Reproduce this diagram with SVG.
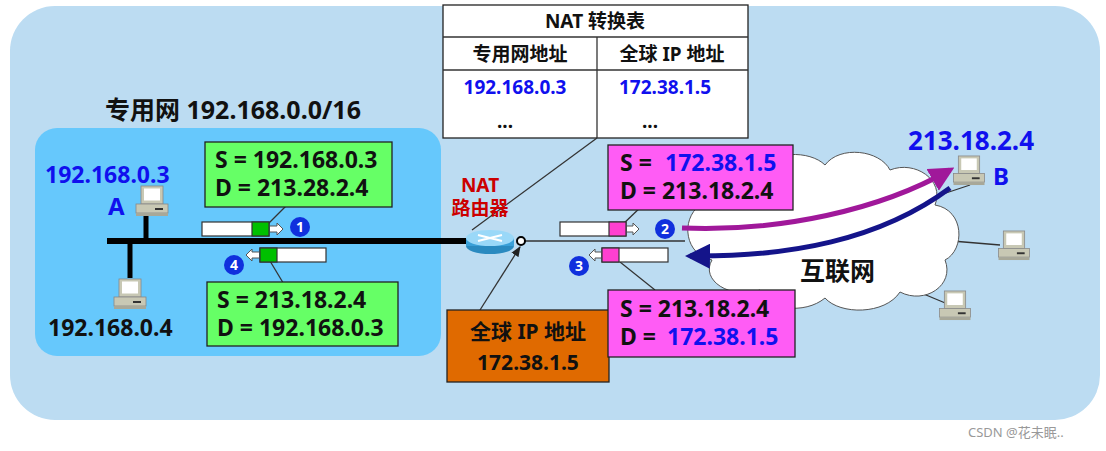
<svg xmlns="http://www.w3.org/2000/svg" width="1106" height="451" viewBox="0 0 1106 451">
<defs>
<style>
text{font-family:"Noto Sans","Noto Sans CJK SC",sans-serif;font-weight:bold}
.t{font-size:23px;fill:#111}
.b{fill:#1010ee}
.ln{stroke:#333;stroke-width:1.3;fill:none}
.num{fill:#1030dd}
.nt{fill:#fff;font-size:14px;text-anchor:middle}
.tb{font-size:19px}
</style>
<symbol id="pc" viewBox="0 0 34 32">
<rect x="6" y="1" width="22" height="18" fill="#c8c8b4" stroke="#888" stroke-width="0.8"/>
<rect x="9" y="3.5" width="16" height="12" fill="#fff"/>
<rect x="1" y="19" width="32" height="9" fill="#c8c8b4" stroke="#888" stroke-width="0.8"/>
<rect x="20" y="23" width="8" height="2" fill="#333"/>
<rect x="1" y="28" width="32" height="3" fill="#a8a898"/>
</symbol>
<marker id="ah" viewBox="0 0 10 10" refX="9" refY="5" markerWidth="8" markerHeight="8" orient="auto"><path d="M0,1 L10,5 L0,9 Z" fill="#222"/></marker>
<marker id="ap" viewBox="0 0 10 10" refX="8" refY="5" markerWidth="5" markerHeight="5" orient="auto"><path d="M0,0 L10,5 L0,10 Z" fill="#a0189a"/></marker>
<marker id="ab" viewBox="0 0 10 10" refX="8" refY="5" markerWidth="5" markerHeight="5" orient="auto"><path d="M0,0 L10,5 L0,10 Z" fill="#14148a"/></marker>
</defs>
<rect x="10" y="6" width="1090" height="414" rx="45" fill="#bcdcf2"/>
<g id="private-net">
<rect x="35" y="128" width="406" height="228" rx="22" fill="#66c8fc"/>
<text x="105" y="119" style="font-size:25px" fill="#111">专用网 192.168.0.0/16</text>
</g>
<g id="table">
<rect x="443" y="5" width="305" height="133" fill="#fff" stroke="#222" stroke-width="1.3"/>
<line x1="443" y1="37" x2="748" y2="37" class="ln"/>
<line x1="443" y1="70" x2="748" y2="70" class="ln"/>
<line x1="597" y1="37" x2="597" y2="138" class="ln"/>
<text x="595" y="28" text-anchor="middle" class="tb" fill="#111">NAT 转换表</text>
<text x="520" y="61" text-anchor="middle" class="tb" fill="#111">专用网地址</text>
<text x="672" y="61" text-anchor="middle" class="tb" fill="#111">全球 IP 地址</text>
<text x="515" y="94" text-anchor="middle" class="tb b">192.168.0.3</text>
<text x="665" y="94" text-anchor="middle" class="tb b">172.38.1.5</text>
<text x="505" y="128" text-anchor="middle" class="tb" fill="#111">...</text>
<text x="650" y="128" text-anchor="middle" class="tb" fill="#111">...</text>
</g>
<g id="connectors">
<line x1="107" y1="241" x2="470" y2="241" stroke="#000" stroke-width="6"/>
<line x1="146" y1="212" x2="146" y2="241" stroke="#000" stroke-width="5"/>
<line x1="130" y1="241" x2="130" y2="278" stroke="#000" stroke-width="5"/>
<line x1="520" y1="241" x2="685" y2="241" class="ln"/>
<line x1="472" y1="230" x2="597" y2="138" class="ln"/>
<line x1="480" y1="310" x2="520" y2="247" class="ln" marker-end="url(#ah)"/>
<line x1="293" y1="199" x2="263" y2="229" class="ln"/>
<line x1="285" y1="286" x2="270" y2="261" class="ln"/>
<line x1="645" y1="203" x2="620" y2="227" class="ln"/>
<line x1="655" y1="290" x2="620" y2="262" class="ln"/>
<line x1="940" y1="195" x2="970" y2="185" class="ln"/>
<line x1="940" y1="240" x2="1000" y2="245" class="ln"/>
<line x1="890" y1="280" x2="950" y2="305" class="ln"/>
</g>
<g id="cloud">
<path d="M700,205 C690,180 730,160 760,172 C770,150 810,150 825,165 C840,145 880,150 890,170 C915,160 945,180 935,205 C965,210 965,250 945,260 C955,285 925,305 900,292 C885,315 840,315 825,298 C805,315 765,310 760,290 C730,300 700,280 712,260 C685,255 680,220 700,205 Z" fill="#fff" stroke="#555" stroke-width="1"/>
<text x="800" y="280" style="font-size:25px" fill="#111">互联网</text>
</g>
<g id="arrows">
<path d="M682,228 C780,232 880,210 950,170" fill="none" stroke="#a0189a" stroke-width="5" marker-end="url(#ap)"/>
<path d="M950,188 C880,240 790,257 690,256" fill="none" stroke="#14148a" stroke-width="5" marker-end="url(#ab)"/>
</g>
<g id="hostA">
<use href="#pc" x="134" y="185" width="36" height="32"/>
<text x="45" y="183" style="font-size:23px" class="b">192.168.0.3</text>
<text x="108" y="215" style="font-size:24px" class="b">A</text>
</g>
<g id="host2">
<use href="#pc" x="112" y="278" width="36" height="32"/>
<text x="48" y="336" style="font-size:23px" fill="#111">192.168.0.4</text>
</g>
<g id="green1">
<rect x="205" y="142" width="187" height="65" fill="#66ff66" stroke="#222" stroke-width="1.3"/>
<text x="215" y="168" class="t">S = 192.168.0.3</text>
<text x="215" y="196" class="t">D = 213.28.2.4</text>
</g>
<g id="green2">
<rect x="207" y="282" width="191" height="64" fill="#66ff66" stroke="#222" stroke-width="1.3"/>
<text x="217" y="308" class="t">S = 213.18.2.4</text>
<text x="217" y="336" class="t">D = 192.168.0.3</text>
</g>
<g id="pkt1">
<rect x="202" y="222" width="67" height="14" fill="#fff" stroke="#333" stroke-width="1.2"/>
<rect x="252" y="222" width="17" height="14" fill="#00c000" stroke="#333" stroke-width="1.2"/>
<path d="M270,226 H277 V223 L283,229 L277,235 V232 H270" fill="#fff" stroke="#555"/>
<circle cx="300" cy="227" r="10" class="num"/><text x="300" y="232" class="nt">1</text>
</g>
<g id="pkt4">
<rect x="260" y="248" width="66" height="14" fill="#fff" stroke="#333" stroke-width="1.2"/>
<rect x="260" y="248" width="17" height="14" fill="#00c000" stroke="#333" stroke-width="1.2"/>
<path d="M259,252 H252 V249 L246,255 L252,261 V258 H259" fill="#fff" stroke="#555"/>
<circle cx="234" cy="265" r="10" class="num"/><text x="234" y="270" class="nt">4</text>
</g>
<g id="router">
<ellipse cx="490" cy="246" rx="24" ry="8" fill="#2a8ac0"/>
<rect x="466" y="238" width="48" height="8" fill="#3aa0d8"/>
<ellipse cx="490" cy="238" rx="24" ry="8" fill="#9ad8f8"/>
<path d="M478,235 L502,241 M478,241 L502,235" stroke="#fff" stroke-width="2"/>
<circle cx="521" cy="241" r="4" fill="#fff" stroke="#000" stroke-width="2"/>
<text x="480" y="192" text-anchor="middle" style="font-size:19px" fill="#cc0000">NAT</text>
<text x="480" y="215" text-anchor="middle" style="font-size:19px" fill="#cc0000">路由器</text>
</g>
<g id="global-ip">
<rect x="447" y="310" width="162" height="72" fill="#e06a00" stroke="#222" stroke-width="1.3"/>
<text x="528" y="339" text-anchor="middle" style="font-size:21px" fill="#111">全球 IP 地址</text>
<text x="528" y="370" text-anchor="middle" style="font-size:21px" fill="#111">172.38.1.5</text>
</g>
<g id="pink1">
<rect x="608" y="145" width="185" height="65" fill="#ff5cf5" stroke="#222" stroke-width="1.3"/>
<text x="620" y="171" class="t">S =</text>
<text x="665" y="171" class="t b">172.38.1.5</text>
<text x="620" y="199" class="t">D = 213.18.2.4</text>
</g>
<g id="pink2">
<rect x="608" y="290" width="187" height="67" fill="#ff5cf5" stroke="#222" stroke-width="1.3"/>
<text x="620" y="317" class="t">S = 213.18.2.4</text>
<text x="620" y="345" class="t">D =</text>
<text x="667" y="345" class="t b">172.38.1.5</text>
</g>
<g id="pkt2">
<rect x="560" y="222" width="66" height="14" fill="#fff" stroke="#333" stroke-width="1.2"/>
<rect x="609" y="222" width="17" height="14" fill="#ff40d0" stroke="#333" stroke-width="1.2"/>
<path d="M627,226 H633 V223 L639,229 L633,235 V232 H627" fill="#fff" stroke="#555"/>
<circle cx="665" cy="229" r="10" class="num"/><text x="665" y="234" class="nt">2</text>
</g>
<g id="pkt3">
<rect x="602" y="248" width="66" height="14" fill="#fff" stroke="#333" stroke-width="1.2"/>
<rect x="602" y="248" width="17" height="14" fill="#ff40d0" stroke="#333" stroke-width="1.2"/>
<path d="M601,252 H595 V249 L589,255 L595,261 V258 H601" fill="#fff" stroke="#555"/>
<circle cx="579" cy="266" r="10" class="num"/><text x="579" y="271" class="nt">3</text>
</g>
<g id="hostB">
<use href="#pc" x="952" y="155" width="34" height="31"/>
<text x="993" y="185" style="font-size:24px" class="b">B</text>
<text x="908" y="150" style="font-size:26px" class="b">213.18.2.4</text>
</g>
<g id="host3"><use href="#pc" x="997" y="230" width="34" height="31"/></g>
<g id="host4"><use href="#pc" x="938" y="290" width="34" height="31"/></g>
<text x="968" y="437" style="font-size:13px;font-weight:normal" fill="#999">CSDN @花未眠..</text>
</svg>
